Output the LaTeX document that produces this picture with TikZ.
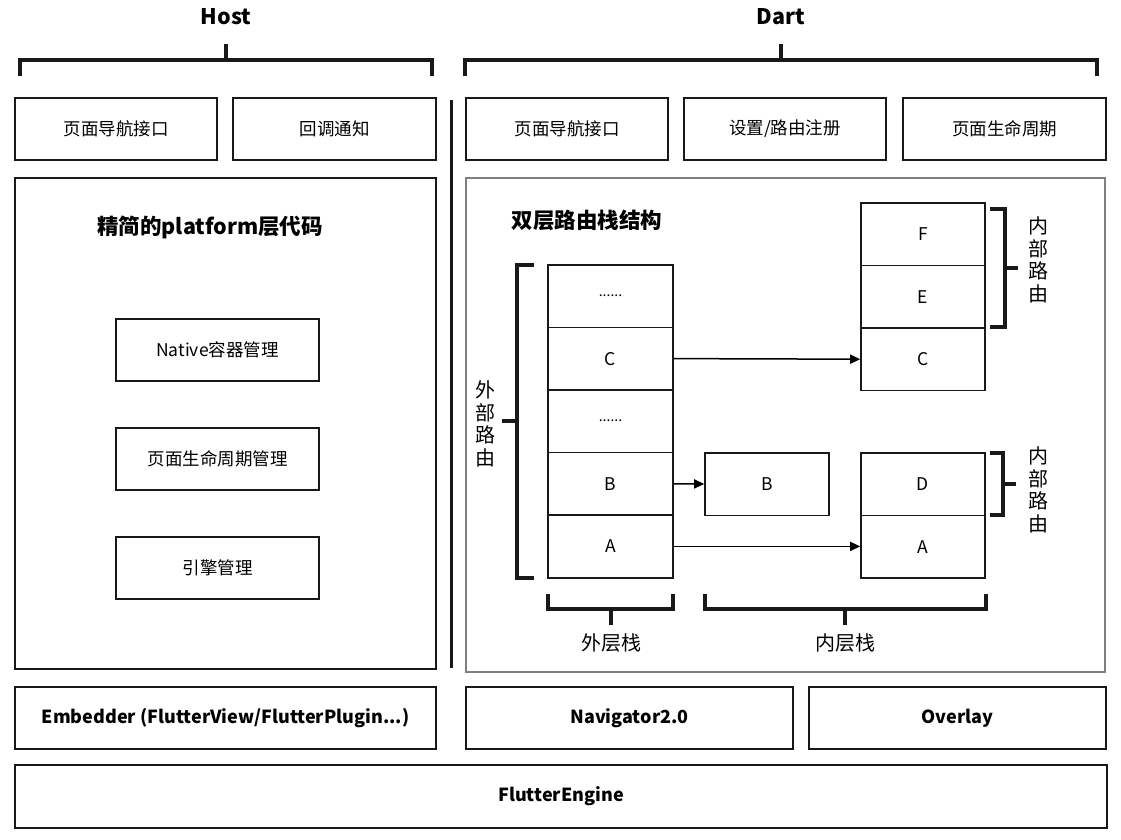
\documentclass[tikz,border=0pt]{standalone}
\usepackage{fontspec}
\setmainfont{Noto Sans CJK SC}
\usetikzlibrary{arrows.meta}
\begin{document}
\begin{tikzpicture}[x=1pt,y=-1pt,
  box/.style={draw=black!90,line width=1.6pt,rectangle,inner sep=0pt,font=\fontsize{17.5}{20}\selectfont},
  bbox/.style={box,font=\fontsize{18}{20}\bfseries\selectfont},
  cell/.style={box,minimum width=125pt,minimum height=62.6pt},
  brk/.style={line width=3.2pt,draw=black!90},
  arr/.style={line width=1.5pt,-{Triangle[length=10pt,width=9pt]}},
  vlab/.style={align=center,inner sep=0pt,font=\fontsize{20}{22.5}\selectfont},
  lab/.style={inner sep=0pt,font=\fontsize{20}{22}\selectfont},
  ttl/.style={inner sep=0pt,font=\fontsize{21.5}{24}\bfseries\selectfont}
]
\useasboundingbox[fill=white] (0,0) rectangle (1121,840);

% titles and top brackets
\node[ttl] (host) at (226,17) {Host};
\node[ttl] (dart) at (781,17) {Dart};
\coordinate (hm) at (226,44);
\coordinate (dm) at (781,44);
\draw[brk] (20,76) -- (20,60) -- (432,60) -- (432,76);
\draw[brk] (hm) -- (226,60);
\draw[brk] (465,76) -- (465,60) -- (1097,60) -- (1097,76);
\draw[brk] (dm) -- (781,60);

% top boxes
\node[box,minimum width=202pt,minimum height=62pt] (hnav) at (116,129) {页面导航接口};
\node[box,minimum width=203pt,minimum height=62pt] (hcb) at (334.5,129) {回调通知};
\node[box,minimum width=202pt,minimum height=62pt] (dnav) at (567,129) {页面导航接口};
\node[box,minimum width=202pt,minimum height=62pt] (dreg) at (785,129) {设置/路由注册};
\node[box,minimum width=203pt,minimum height=62pt] (dlife) at (1004.5,129) {页面生命周期};

% separator
\coordinate (s1) at (451,100);
\coordinate (s2) at (451,668);
\draw[line width=3pt,draw=black!90] (s1) -- (s2);

% left big box
\node[box,minimum width=421pt,minimum height=491pt] (lbig) at (225.5,423.5) {};
\node[ttl] (ltitle) at (210,227) {精简的platform层代码};
\node[box,minimum width=203pt,minimum height=62pt] (native) at (217.5,350) {Native容器管理};
\node[box,minimum width=203pt,minimum height=62pt] (plife) at (217.5,459) {页面生命周期管理};
\node[box,minimum width=203pt,minimum height=62pt] (engine) at (217.5,568) {引擎管理};

% right big box
\node[draw=black!50,line width=2.2pt,rectangle,minimum width=639pt,minimum height=494pt,inner sep=0pt] (rbig) at (785.5,425) {};
\node[ttl] (rtitle) at (587,220) {双层路由栈结构};

% outer stack
\node[cell] (o1) at (610.5,296) {\fontsize{14}{16}\selectfont ......};
\node[cell] (oc) at (610.5,358.6) {C};
\node[cell] (o2) at (610.5,421.2) {\fontsize{14}{16}\selectfont ......};
\node[cell] (ob) at (610.5,483.8) {B};
\node[cell] (oa) at (610.5,546.4) {A};

% inner stack 1
\node[cell,minimum width=124pt] (f) at (923,234) {F};
\node[cell,minimum width=124pt] (e) at (923,296.6) {E};
\node[cell,minimum width=124pt] (ic) at (923,359.2) {C};

% middle B
\node[cell,minimum width=124pt] (mb) at (767,484) {B};

% inner stack 2
\node[cell,minimum width=124pt] (d) at (923,484) {D};
\node[cell,minimum width=124pt] (ia) at (923,546.6) {A};

% arrows
\draw[arr] (oc.east) -- (ic.west);
\draw[arr] (ob.east) -- (mb.west);
\draw[arr] (oa.east) -- (oa.east -| ia.west);

% outer bracket
\node[vlab] (outl) at (485,424) {外\\部\\路\\由};
\coordinate (om) at (502,421);
\draw[brk] (534,265) -- (517,265) -- (517,578) -- (534,578);
\draw[brk] (om) -- (517,421);

% inner bracket 1
\node[vlab] (inl1) at (1038,260) {内\\部\\路\\由};
\coordinate (im1) at (1018,268);
\draw[brk] (990,209) -- (1005,209) -- (1005,327) -- (990,327);
\draw[brk] (1005,268) -- (im1);

% inner bracket 2
\node[vlab] (inl2) at (1038,490) {内\\部\\路\\由};
\coordinate (im2) at (1016,484);
\draw[brk] (990,453) -- (1003,453) -- (1003,515) -- (990,515);
\draw[brk] (1003,484) -- (im2);

% bottom brackets
\node[lab] (outs) at (611,643) {外层栈};
\node[lab] (ins) at (845,643) {内层栈};
\coordinate (ob1) at (611,625);
\coordinate (ib1) at (845,625);
\draw[brk] (548,594) -- (548,609) -- (673,609) -- (673,594);
\draw[brk] (611,609) -- (ob1);
\draw[brk] (705,594) -- (705,609) -- (986,609) -- (986,594);
\draw[brk] (845,609) -- (ib1);

% bottom layer
\node[bbox,minimum width=421pt,minimum height=62pt] (emb) at (225.5,718) {Embedder (FlutterView/FlutterPlugin...)};
\node[bbox,minimum width=327pt,minimum height=62pt] (nav) at (629.5,718) {Navigator2.0};
\node[bbox,minimum width=297pt,minimum height=62pt] (ovl) at (957.5,718) {Overlay};
\node[bbox,minimum width=1092pt,minimum height=63pt] (eng) at (561,796.5) {FlutterEngine};
\end{tikzpicture}
\end{document}
